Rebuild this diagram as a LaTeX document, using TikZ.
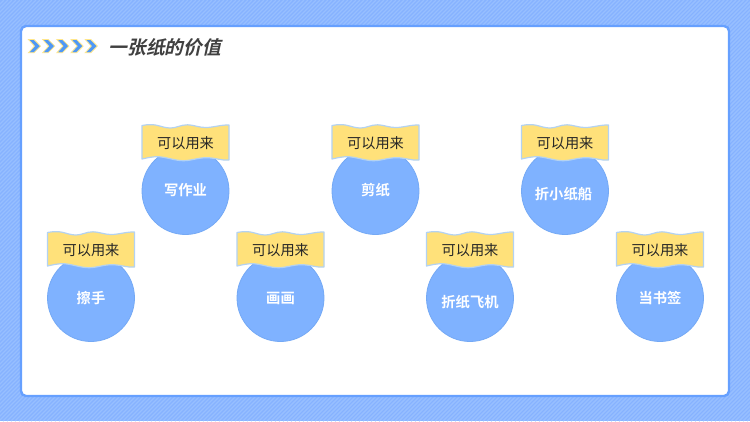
\documentclass[tikz,border=0pt]{standalone}
\usepackage{fontspec}
\newfontfamily\cjk{Noto Sans CJK SC}
\newfontfamily\cjkbold{Noto Sans CJK SC Bold}
\newfontfamily\cjktitle[FakeSlant=0.22]{Noto Sans CJK SC Bold}
\definecolor{bgblue}{HTML}{86B2FF}
\definecolor{stripeblue}{HTML}{97BFFF}
\definecolor{frameblue}{HTML}{66A0FF}
\definecolor{circfill}{HTML}{7FB2FF}
\definecolor{circline}{HTML}{74A9F5}
\definecolor{flagfill}{HTML}{FFE17A}
\definecolor{flagline}{HTML}{B3D2F2}
\definecolor{chevblue}{HTML}{4F98F5}
\definecolor{chevyellow}{HTML}{FFE68A}
\definecolor{titlegray}{HTML}{404040}
\tikzset{
  x=1pt,y=-1pt,
  spot/.style={circle,draw=circline,line width=.8pt,fill=circfill,minimum size=87pt,inner sep=0pt},
  spotlabel/.style={font=\cjkbold\fontsize{14.3}{14}\selectfont,text=white,inner sep=0pt},
  flaglabel/.style={font=\cjk\fontsize{14.2}{15}\selectfont,text=black!85,inner sep=0pt},
  flagshape/.style={draw=flagline,line width=1.2pt,fill=flagfill,line join=round},
  chevron/.style={draw=chevyellow,line width=.8pt,fill=chevblue,line join=miter},
}
% #1 name, #2 x centre, #3 y centre, #4 label, #5 label x offset, #6 label y
\newcommand{\paperitem}[6]{
  \node[spot] (c#1) at (#2,#3) {};
  \node[spotlabel] (t#1) at (#2+#5,#6) {#4};
  \begin{scope}[shift={(#2,#3)}]
    \path[flagshape] (-43.5,-65.5)
      .. controls (-38,-66.6) and (-33,-66.6) .. (-29,-65.8)
      .. controls (-23,-64.4) and (-20,-63) .. (-15,-63)
      .. controls (-9,-63) and (-5,-66.2) .. (2,-66.2)
      .. controls (8,-66.2) and (13,-63.5) .. (20,-63.5)
      .. controls (28,-63.5) and (36,-66.4) .. (43.5,-66)
      -- (43.5,-31)
      .. controls (37,-30) and (30,-33.3) .. (21,-33.3)
      .. controls (12,-33.3) and (6,-30.3) .. (-2,-30.3)
      .. controls (-11,-30.3) and (-20,-34.3) .. (-28,-34.3)
      .. controls (-34,-34.3) and (-39,-33) .. (-43.5,-32)
      -- cycle;
    \node[flaglabel] (f#1) at (0,-48) {可以用来};
  \end{scope}
}
\begin{document}
\begin{tikzpicture}
\useasboundingbox (0,0) rectangle (750,421);
\fill[bgblue] (0,0) rectangle (750,421);
\begin{scope}
  \clip (0,0) rectangle (750,421);
  \foreach \i in {0,4,...,1180}{
    \draw[stripeblue,line width=1.4pt] (\i,0) -- (\i-421,421);
  }
\end{scope}
\node[draw=frameblue,line width=2.4pt,fill=white,rounded corners=5pt,minimum width=708pt,minimum height=370pt,inner sep=0pt] (panel) at (375,211) {};
\foreach \k in {0,1,2,3,4}{
  \draw[chevron,shift={(28.5+14.2*\k,39.5)}] (0,0) -- (5.5,0) -- (12,6.6) -- (5.5,13.2) -- (0,13.2) -- (6,6.6) -- cycle;
}
\node[font=\cjktitle\fontsize{18.7}{19}\selectfont,text=titlegray,inner sep=0pt,anchor=west] (title) at (108.5,47.5) {一张纸的价值};
\paperitem{a}{185.5}{191}{写作业}{0}{190}
\paperitem{b}{375.5}{191}{剪纸}{0}{190}
\paperitem{c}{565}{191}{折小纸船}{-1.5}{194}
\paperitem{d}{91}{298}{擦手}{0}{298}
\paperitem{e}{280.5}{298}{画画}{0}{298}
\paperitem{f}{470}{298}{折纸飞机}{0}{302}
\paperitem{g}{660}{298}{当书签}{0}{298}
\end{tikzpicture}
\end{document}
